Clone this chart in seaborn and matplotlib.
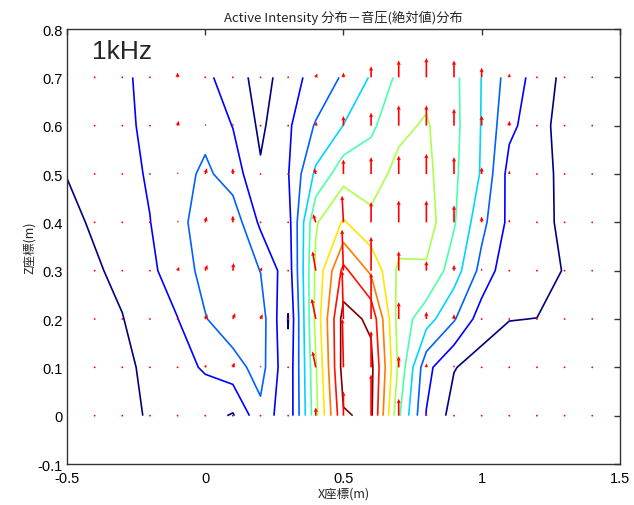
import numpy as np
import matplotlib
matplotlib.use("Agg")
import matplotlib.pyplot as plt
import seaborn as sns

# ---------------- data ----------------
x_coords = [-0.5, -0.4, -0.3, -0.2, -0.1, 0.0, 0.1, 0.2, 0.3, 0.4,
            0.5, 0.6, 0.7, 0.8, 0.9, 1.0, 1.1, 1.2, 1.3, 1.4]
z_coords = [0.0, 0.1, 0.2, 0.3, 0.4, 0.5, 0.6, 0.7]

# sound pressure (absolute value), rows = z, columns = x
pressure = [
    [0.30, 0.50, 0.80, 1.07, 1.30, 1.40, 0.90, 2.73, 1.23, 5.70, 9.90, 10.20, 5.15, 1.95, 0.59, 0.50, 0.45, 0.40, 0.40, 0.35],
    [0.50, 0.75, 0.80, 1.20, 1.70, 2.10, 2.60, 3.40, 1.20, 5.90, 10.46, 10.30, 5.80, 2.30, 1.05, 0.60, 0.55, 0.50, 0.45, 0.40],
    [0.65, 0.85, 0.97, 1.47, 1.98, 2.95, 3.60, 3.50, 0.95, 6.30, 10.41, 9.80, 5.55, 4.45, 3.10, 1.49, 1.02, 0.99, 0.70, 0.60],
    [0.70, 0.90, 1.20, 1.80, 2.50, 3.30, 3.60, 2.98, 1.40, 6.20, 9.27, 7.80, 5.80, 5.85, 4.50, 2.67, 1.30, 1.40, 0.95, 0.60],
    [0.80, 1.10, 1.50, 1.98, 2.70, 3.50, 3.60, 1.80, 1.60, 5.90, 7.10, 6.20, 6.60, 6.50, 5.10, 3.30, 1.75, 1.25, 0.85, 0.60],
    [1.02, 1.30, 1.70, 2.10, 2.60, 3.20, 2.53, 1.13, 1.95, 4.20, 5.62, 5.63, 6.25, 6.27, 5.20, 3.90, 1.65, 1.30, 0.80, 0.60],
    [1.30, 1.50, 1.80, 2.20, 2.50, 2.70, 1.97, 0.80, 1.84, 3.10, 4.02, 4.80, 5.80, 6.10, 5.29, 3.95, 2.22, 1.49, 0.50, 0.45],
    [1.50, 1.60, 1.85, 2.25, 2.40, 2.10, 1.77, 0.37, 1.77, 2.20, 3.15, 4.09, 5.23, 5.70, 5.25, 3.98, 2.57, 1.62, 0.73, 0.60],
]

# active intensity, x component
intensity_x = [
    [0, 0, 0, 0, 0.00, 0.00, 0.00, 0.00, 0.00, 0.00, 0.00, 0, 0, 0, 0, 0, 0, 0, 0, 0],
    [0, 0, 0, 0, 0.00, 0.04, 0.06, 0.02, 0.00, -0.12, -0.04, 0, 0, 0, 0, 0, 0, 0, 0, 0],
    [0, 0, 0, 0, 0.02, 0.08, 0.08, 0.08, 0.00, -0.15, -0.05, 0, 0, 0, 0, 0, 0, 0, 0, 0],
    [0, 0, 0, 0, 0.06, 0.08, 0.03, 0.06, 0.00, -0.12, -0.05, 0, 0, 0, 0, 0, 0, 0, 0, 0],
    [0, 0, 0, 0, 0.03, 0.05, 0.00, 0.00, 0.00, -0.10, -0.05, 0, 0, 0, 0, 0, 0, 0, 0, 0],
    [0, 0, 0, 0, 0.02, 0.06, 0.00, 0.00, 0.00, -0.06, 0.00, 0, 0, 0, 0, 0, 0, 0, 0, 0],
    [0, 0, 0, 0, 0.04, 0.02, 0.00, 0.00, 0.00, 0.03, 0.00, 0, 0, 0, 0, 0, 0, 0, 0, 0],
    [0, 0, 0, 0, 0.00, 0.00, 0.00, 0.00, 0.03, 0.05, 0.00, 0, 0, 0, 0, 0, 0, 0, 0, 0],
]

# active intensity, z component
intensity_z = [
    [0.02, 0.02, 0.02, 0.02, 0.02, 0.03, 0.03, 0.03, 0.03, 0.17, 0.50, 0.85, 0.35, 0.05, 0.03, 0.02, 0.02, 0.02, 0.02, 0.02],
    [0.02, 0.02, 0.02, 0.02, 0.03, 0.06, 0.10, 0.04, 0.03, 0.33, 1.00, 0.75, 0.23, 0.08, 0.05, 0.03, 0.02, 0.02, 0.02, 0.02],
    [0.02, 0.02, 0.02, 0.02, 0.03, 0.10, 0.12, 0.10, 0.03, 0.42, 1.00, 0.95, 0.35, 0.15, 0.10, 0.04, 0.02, 0.02, 0.02, 0.02],
    [0.02, 0.02, 0.02, 0.02, 0.08, 0.12, 0.16, 0.07, 0.03, 0.40, 0.85, 0.70, 0.40, 0.20, 0.12, 0.05, 0.03, 0.02, 0.02, 0.02],
    [0.02, 0.02, 0.02, 0.02, 0.04, 0.12, 0.14, 0.04, 0.03, 0.17, 0.55, 0.42, 0.45, 0.45, 0.35, 0.12, 0.06, 0.03, 0.02, 0.02],
    [0.02, 0.02, 0.02, 0.02, 0.04, 0.12, 0.12, 0.03, 0.03, 0.12, 0.30, 0.35, 0.38, 0.42, 0.35, 0.14, 0.07, 0.03, 0.02, 0.02],
    [0.02, 0.02, 0.02, 0.02, 0.10, 0.04, 0.05, 0.03, 0.03, 0.08, 0.20, 0.27, 0.42, 0.42, 0.35, 0.21, 0.10, 0.04, 0.02, 0.02],
    [0.02, 0.02, 0.02, 0.02, 0.10, 0.03, 0.03, 0.02, 0.03, 0.08, 0.10, 0.23, 0.35, 0.40, 0.35, 0.20, 0.08, 0.03, 0.02, 0.02],
]

contour_levels = [1, 2, 3, 4, 5, 6, 7, 8, 9, 10]

x_ticks = [-0.5, 0, 0.5, 1, 1.5]
x_tick_labels = ["-0.5", "0", "0.5", "1", "1.5"]
z_ticks = [-0.1, 0, 0.1, 0.2, 0.3, 0.4, 0.5, 0.6, 0.7, 0.8]
z_tick_labels = ["-0.1", "0", "0.1", "0.2", "0.3", "0.4", "0.5", "0.6", "0.7", "0.8"]

title_text = "Active Intensity 分布－音圧(絶対値)分布"
x_label = "X座標(m)"
z_label = "Z座標(m)"
freq_label = "1kHz"

# ---------------- style ----------------
sns.set_theme(style="white")
plt.rcParams["font.family"] = ["Liberation Sans", "DejaVu Sans"]
plt.rcParams["axes.unicode_minus"] = False
cjk = ["Noto Sans CJK JP", "DejaVu Sans"]

fig = plt.figure(figsize=(6.34, 5.06), dpi=100)
ax = fig.add_axes([0.1057, 0.081, 0.872, 0.8597])

X, Z = np.meshgrid(np.array(x_coords), np.array(z_coords))
P = np.array(pressure)
U = np.array(intensity_x)
V = np.array(intensity_z)

jet = matplotlib.colormaps["jet"]
line_colors = [jet(i / (len(contour_levels) - 1)) for i in range(len(contour_levels))]
ax.contour(X, Z, P, levels=contour_levels, colors=line_colors, linewidths=1.2, zorder=2)

ax.quiver(X, Z, U, V, color="red", angles="xy", scale_units="xy", scale=10,
          width=0.003, headwidth=2.6, headlength=2.8, headaxislength=2.4,
          minlength=1.2, pivot="tail", zorder=3)

ax.set_xlim(-0.5, 1.5)
ax.set_ylim(-0.1, 0.8)
ax.set_xticks(x_ticks)
ax.set_xticklabels(x_tick_labels)
ax.set_yticks(z_ticks)
ax.set_yticklabels(z_tick_labels)
ax.tick_params(direction="in", length=4, width=1, top=True, right=True,
               labelsize=10.5, colors="#333333", labelcolor="black")
ax.tick_params(axis="x", pad=5)
ax.tick_params(axis="y", pad=3)
for s in ax.spines.values():
    s.set_visible(True)
    s.set_color("#333333")
    s.set_linewidth(1.0)
ax.grid(False)
ax.set_facecolor("white")

ax.set_title(title_text, fontsize=9.5, family=cjk, pad=6)
ax.set_xlabel(x_label, fontsize=9, family=cjk, labelpad=1)
ax.set_ylabel(z_label, fontsize=9, family=cjk, labelpad=1)
ax.text(-0.41, 0.755, freq_label, fontsize=19, va="center", ha="left",
        family=["Liberation Sans", "DejaVu Sans"])

fig.savefig("out.png", dpi=100, facecolor="white")
